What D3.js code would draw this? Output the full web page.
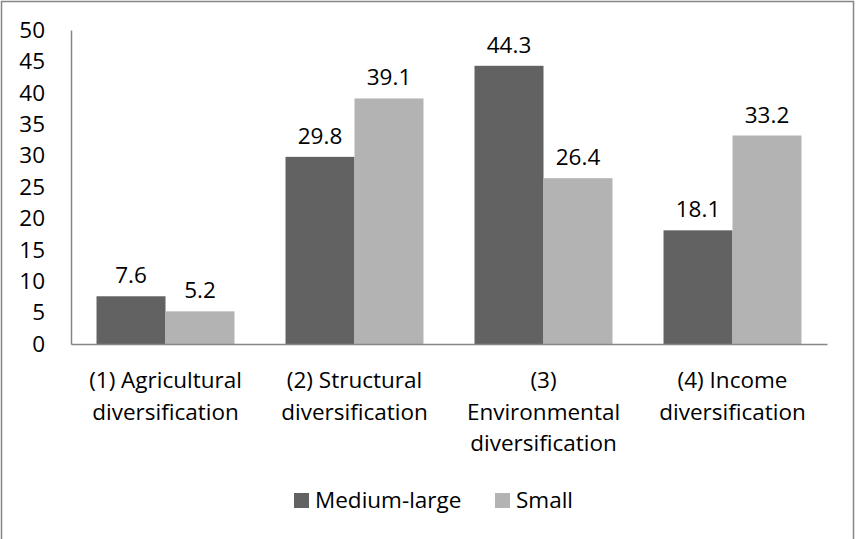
<!DOCTYPE html>
<html>
<head>
<meta charset="utf-8">
<script src="https://d3js.org/d3.v7.min.js"></script>
<style>
  body { margin: 0; background: #fff; }
  text { font-family: "Open Sans", sans-serif; fill: #000; }
</style>
</head>
<body>
<script>
var width = 856,
    height = 539,
    fontSize = '22.5px';

// data
var categories = [
    ['(1) Agricultural', 'diversification'],
    ['(2) Structural', 'diversification'],
    ['(3)', 'Environmental', 'diversification'],
    ['(4) Income', 'diversification']
];
var seriesNames = ['Medium-large', 'Small'];
var mediumLarge = [7.6, 29.8, 44.3, 18.1];
var small = [5.2, 39.1, 26.4, 33.2];
var yTicks = [0, 5, 10, 15, 20, 25, 30, 35, 40, 45, 50];
var colors = ['#626262', '#b3b3b3'];

var margin = {left: 71, right: 29, top: 30, bottom: 195};

var svg = d3.select('body').append('svg')
    .attr('width', width)
    .attr('height', height);

// outer frame
svg.append('rect')
    .attr('x', 1.5).attr('y', 1.5)
    .attr('width', width - 4).attr('height', height + 10)
    .attr('fill', 'none')
    .attr('stroke', '#868686')
    .attr('stroke-width', 1.5);

var x = d3.scaleBand()
    .domain(d3.range(categories.length))
    .range([margin.left, width - margin.right])
    .paddingInner(0.27)
    .paddingOuter(0.135);

var x1 = d3.scaleBand()
    .domain(seriesNames)
    .range([0, x.bandwidth()]);

var y = d3.scaleLinear()
    .domain([0, 50])
    .range([height - margin.bottom, margin.top]);

var series = [mediumLarge, small];

var g = svg.append('g');

series.forEach(function(vals, si) {
    var grp = g.append('g');
    grp.selectAll('rect')
        .data(vals)
        .enter().append('rect')
        .attr('x', function(d, i) { return x(i) + x1(seriesNames[si]); })
        .attr('y', function(d) { return y(d); })
        .attr('width', x1.bandwidth())
        .attr('height', function(d) { return y(0) - y(d); })
        .attr('fill', colors[si]);
    grp.selectAll('text')
        .data(vals)
        .enter().append('text')
        .attr('x', function(d, i) { return x(i) + x1(seriesNames[si]) + x1.bandwidth() / 2; })
        .attr('y', function(d) { return y(d) - 13; })
        .attr('text-anchor', 'middle')
        .style('font-size', fontSize)
        .text(function(d) { return d.toFixed(1); });
});

// y axis
var yAxis = svg.append('g')
    .attr('transform', 'translate(' + margin.left + ',0)')
    .call(d3.axisLeft(y).tickValues(yTicks).tickSize(0).tickPadding(26));
yAxis.select('.domain').attr('stroke', '#868686').attr('stroke-width', 1.5);
yAxis.selectAll('text').style('font-size', fontSize).attr('fill', '#000');

// x axis
var xAxis = svg.append('g')
    .attr('transform', 'translate(0,' + y(0) + ')')
    .call(d3.axisBottom(d3.scaleLinear().range([margin.left, width - margin.right])).ticks(0).tickSize(0));
xAxis.select('.domain').attr('stroke', '#868686').attr('stroke-width', 1.5);

var xr = d3.scaleBand()
    .domain(d3.range(categories.length))
    .range([margin.left, width - margin.right]);

var labels = svg.append('g').selectAll('text')
    .data(categories)
    .enter().append('text')
    .attr('text-anchor', 'middle')
    .style('font-size', fontSize)
    .attr('transform', function(d, i) { return 'translate(' + (xr(i) + xr.bandwidth() / 2) + ',388)'; });
labels.selectAll('tspan')
    .data(function(d) { return d; })
    .enter().append('tspan')
    .attr('x', 0)
    .attr('y', function(d, i) { return i * 31.5; })
    .text(function(d) { return d; });

// legend
var legendX = [294, 495];
var legend = svg.append('g').selectAll('g')
    .data(seriesNames)
    .enter().append('g')
    .attr('transform', function(d, i) { return 'translate(' + legendX[i] + ',493)'; });
legend.append('rect')
    .attr('width', 15).attr('height', 15)
    .attr('fill', function(d, i) { return colors[i]; });
legend.append('text')
    .attr('x', 21).attr('y', 15)
    .style('font-size', fontSize)
    .text(function(d) { return d; });
</script>
</body>
</html>
